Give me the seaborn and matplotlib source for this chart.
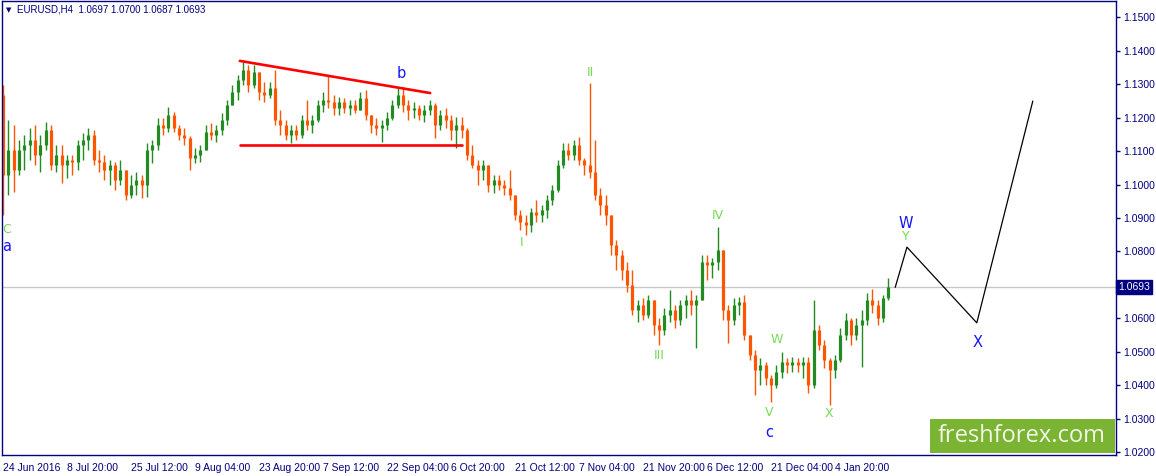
import matplotlib
matplotlib.use("Agg")
import matplotlib.pyplot as plt
import matplotlib.ticker as mticker
from matplotlib.patches import Rectangle
import numpy as np
import seaborn as sns

# --- EURUSD H4 bars (one bar per ~5px column) ---
first_open = 1.1267
closes = [
    1.1028, 1.1103, 1.1043, 1.1103, 1.1118, 1.1133, 1.1088, 1.1118, 1.1163, 1.1058, 1.1088, 1.1058,
    1.1073, 1.1067, 1.1118, 1.1133, 1.1148, 1.1073, 1.1067, 1.1043, 1.1058, 1.1013, 1.1043, 1.0969,
    1.0999, 1.1013, 1.0999, 1.1103, 1.1118, 1.1178, 1.1169, 1.1207, 1.1169, 1.1148, 1.1139, 1.1079,
    1.1088, 1.1103, 1.1157, 1.1148, 1.1163, 1.1193, 1.1237, 1.1276, 1.1312, 1.1342, 1.1297, 1.1336,
    1.1276, 1.1267, 1.1288, 1.1193, 1.1178, 1.1148, 1.1163, 1.1148, 1.1193, 1.1178, 1.1193, 1.1237,
    1.1252, 1.1246, 1.1228, 1.1246, 1.1228, 1.1237, 1.1222, 1.1258, 1.1207, 1.1178, 1.1169, 1.1178,
    1.1199, 1.1237, 1.1267, 1.1237, 1.1222, 1.1228, 1.1207, 1.1222, 1.1237, 1.1178, 1.1207, 1.1193,
    1.1163, 1.1178, 1.1163, 1.1088, 1.1058, 1.1043, 1.1058, 1.0999, 1.1013, 1.0999, 1.0990, 1.0969,
    1.0909, 1.0888, 1.0879, 1.0918, 1.0909, 1.0924, 1.0954, 1.0984, 1.1058, 1.1103, 1.1088, 1.1118,
    1.1073, 1.1058, 1.1037, 1.0969, 1.0939, 1.0909, 1.0819, 1.0790, 1.0745, 1.0700, 1.0625, 1.0640,
    1.0610, 1.0655, 1.0581, 1.0566, 1.0610, 1.0625, 1.0596, 1.0640, 1.0655, 1.0640, 1.0655, 1.0769,
    1.0760, 1.0769, 1.0804, 1.0625, 1.0596, 1.0640, 1.0649, 1.0551, 1.0491, 1.0446, 1.0461, 1.0422,
    1.0401, 1.0440, 1.0470, 1.0461, 1.0470, 1.0461, 1.0470, 1.0401, 1.0566, 1.0521, 1.0476, 1.0446,
    1.0476, 1.0551, 1.0596, 1.0551, 1.0581, 1.0596, 1.0655, 1.0640, 1.0601, 1.0661, 1.0693,
]
highs = [
    1.1297, 1.1193, 1.1178, 1.1133, 1.1148, 1.1169, 1.1178, 1.1148, 1.1187, 1.1178, 1.1118, 1.1118,
    1.1088, 1.1088, 1.1133, 1.1154, 1.1169, 1.1163, 1.1103, 1.1088, 1.1073, 1.1067, 1.1073, 1.1043,
    1.1028, 1.1037, 1.1028, 1.1124, 1.1133, 1.1199, 1.1199, 1.1231, 1.1216, 1.1178, 1.1169, 1.1145,
    1.1109, 1.1118, 1.1178, 1.1184, 1.1178, 1.1213, 1.1252, 1.1297, 1.1327, 1.1366, 1.1357, 1.1357,
    1.1336, 1.1306, 1.1306, 1.1342, 1.1222, 1.1193, 1.1178, 1.1178, 1.1207, 1.1252, 1.1207, 1.1252,
    1.1276, 1.1327, 1.1267, 1.1261, 1.1258, 1.1252, 1.1252, 1.1276, 1.1282, 1.1207, 1.1199, 1.1193,
    1.1216, 1.1252, 1.1288, 1.1291, 1.1252, 1.1246, 1.1237, 1.1237, 1.1252, 1.1243, 1.1222, 1.1228,
    1.1207, 1.1202, 1.1202, 1.1169, 1.1118, 1.1073, 1.1073, 1.1058, 1.1028, 1.1028, 1.1013, 1.1043,
    1.0969, 1.0924, 1.0909, 1.0930, 1.0954, 1.0939, 1.0969, 1.0999, 1.1073, 1.1124, 1.1124, 1.1133,
    1.1142, 1.1079, 1.1303, 1.1133, 1.0990, 1.0969, 1.0909, 1.0834, 1.0804, 1.0769, 1.0745, 1.0655,
    1.0661, 1.0670, 1.0655, 1.0601, 1.0631, 1.0685, 1.0640, 1.0655, 1.0670, 1.0685, 1.0670, 1.0790,
    1.0790, 1.0781, 1.0873, 1.0804, 1.0640, 1.0661, 1.0664, 1.0670, 1.0551, 1.0506, 1.0482, 1.0470,
    1.0431, 1.0461, 1.0500, 1.0482, 1.0485, 1.0482, 1.0485, 1.0485, 1.0655, 1.0581, 1.0536, 1.0482,
    1.0491, 1.0572, 1.0616, 1.0601, 1.0601, 1.0625, 1.0676, 1.0688, 1.0655, 1.0670, 1.0721,
]
lows = [
    1.0909, 1.0969, 1.0978, 1.1028, 1.1043, 1.1073, 1.1058, 1.1037, 1.1103, 1.1043, 1.1037, 1.1004,
    1.1019, 1.1028, 1.1043, 1.1073, 1.1103, 1.1058, 1.1037, 1.1013, 1.0999, 1.0984, 1.0999, 1.0954,
    1.0960, 1.0969, 1.0960, 1.0963, 1.1064, 1.1103, 1.1148, 1.1157, 1.1157, 1.1133, 1.1118, 1.1043,
    1.1064, 1.1067, 1.1103, 1.1133, 1.1127, 1.1148, 1.1178, 1.1237, 1.1252, 1.1297, 1.1276, 1.1288,
    1.1252, 1.1246, 1.1258, 1.1178, 1.1148, 1.1133, 1.1124, 1.1133, 1.1139, 1.1163, 1.1154, 1.1187,
    1.1216, 1.1228, 1.1207, 1.1207, 1.1213, 1.1207, 1.1213, 1.1222, 1.1193, 1.1154, 1.1148, 1.1127,
    1.1163, 1.1193, 1.1228, 1.1216, 1.1193, 1.1199, 1.1193, 1.1187, 1.1207, 1.1139, 1.1163, 1.1169,
    1.1133, 1.1109, 1.1139, 1.1073, 1.1049, 1.0999, 1.1013, 1.0978, 1.0975, 1.0984, 1.0969, 1.0954,
    1.0894, 1.0864, 1.0849, 1.0858, 1.0888, 1.0888, 1.0900, 1.0939, 1.0978, 1.1049, 1.1073, 1.1073,
    1.1058, 1.1028, 1.1019, 1.0954, 1.0909, 1.0879, 1.0790, 1.0745, 1.0715, 1.0679, 1.0610, 1.0590,
    1.0596, 1.0601, 1.0551, 1.0521, 1.0551, 1.0590, 1.0572, 1.0581, 1.0601, 1.0610, 1.0512, 1.0655,
    1.0715, 1.0721, 1.0745, 1.0596, 1.0527, 1.0581, 1.0610, 1.0536, 1.0476, 1.0372, 1.0401, 1.0401,
    1.0351, 1.0393, 1.0422, 1.0437, 1.0440, 1.0440, 1.0422, 1.0378, 1.0393, 1.0506, 1.0452, 1.0342,
    1.0422, 1.0470, 1.0536, 1.0521, 1.0536, 1.0455, 1.0581, 1.0616, 1.0581, 1.0590, 1.0655,
]

# time axis labels, one every 12 bars
date_labels = ["24 Jun 2016", "8 Jul 20:00", "25 Jul 12:00", "9 Aug 04:00", "23 Aug 20:00",
               "7 Sep 12:00", "22 Sep 04:00", "6 Oct 20:00", "21 Oct 12:00", "7 Nov 04:00",
               "21 Nov 20:00", "6 Dec 12:00", "21 Dec 04:00", "4 Jan 20:00"]
bars_per_label = 12

# price scale levels shown (1.0700 is hidden behind the current price box)
price_levels = [1.02, 1.03, 1.04, 1.05, 1.06, 1.08, 1.09, 1.10, 1.11, 1.12, 1.13, 1.14, 1.15]

# triangle trendlines (bar index, price)
upper_x = [44.4, 80.1]
upper_y = [1.1369, 1.1273]
lower_x = [44.4, 86.1]
lower_y = [1.1118, 1.1118]

# forecast path w-x-y
forecast_x = [167.3, 169.5, 182.6, 193.1]
forecast_y = [1.0693, 1.0813, 1.0587, 1.1249]

last_price = 1.0693
header = "EURUSD,H4  1.0697 1.0700 1.0687 1.0693"

UP = "#228b22"
DOWN = "#ff5500"
NAVY = "#000080"
WAVE_GREEN = "#74dc50"
WAVE_BLUE = "#1414ff"

sns.set_style("white")
plt.rcParams["font.family"] = ["Liberation Sans", "DejaVu Sans"]

fig = plt.figure(figsize=(11.56, 4.76), dpi=100)
ax = fig.add_axes([2 / 1156, 21 / 476, 1114 / 1156, 454 / 476])

closes = np.array(closes)
highs = np.array(highs)
lows = np.array(lows)
opens = np.r_[first_open, closes[:-1]]
idx = np.arange(len(closes))
colors = np.where(closes >= opens, UP, DOWN)

ax.axhline(last_price, color="#c8c8c8", lw=1, zorder=0)

# candles: thin wick + thicker body
ax.vlines(idx, lows, highs, colors=colors, linewidth=1.0, zorder=2)
ax.vlines(idx, np.minimum(opens, closes), np.maximum(opens, closes),
          colors=colors, linewidth=2.3, zorder=2)

sns.lineplot(x=upper_x, y=upper_y, ax=ax, color="#ff0000", lw=1.9, estimator=None, sort=False)
sns.lineplot(x=lower_x, y=lower_y, ax=ax, color="#ff0000", lw=1.9, estimator=None, sort=False)
sns.lineplot(x=forecast_x, y=forecast_y, ax=ax, color="black", lw=0.9, estimator=None, sort=False)

# wave labels
green_labels = [("C", 0.6, 1.0867), ("I", 97.3, 1.0828), ("II", 110.1, 1.1333),
                ("III", 123.0, 1.0491), ("IV", 134.1, 1.0906), ("V", 143.6, 1.0318),
                ("W", 145.1, 1.0536), ("X", 154.9, 1.0315), ("Y", 169.3, 1.0846)]
blue_labels = [("a", 0.6, 1.0816), ("b", 74.6, 1.1330), ("c", 143.6, 1.0261),
               ("W", 169.3, 1.0885), ("X", 182.8, 1.0527)]
for txt, x, y in green_labels:
    ax.text(x, y, txt, color=WAVE_GREEN, fontsize=9, ha="center", va="center",
            family=["DejaVu Sans"])
for txt, x, y in blue_labels:
    ax.text(x, y, txt, color=WAVE_BLUE, fontsize=10.5, ha="center", va="center",
            family=["DejaVu Sans"])

ax.set_xlim(-0.19, 208.7)
ax.set_ylim(1.01925, 1.15478)

ax.set_xticks(np.arange(len(date_labels)) * bars_per_label)
ax.set_xticklabels(date_labels, ha="left")
ax.yaxis.tick_right()
ax.set_yticks(price_levels)
ax.yaxis.set_major_formatter(mticker.FormatStrFormatter("%.4f"))
ax.tick_params(axis="both", colors=NAVY, labelcolor=NAVY, labelsize=7.5,
               length=3, width=1, direction="out")
ax.tick_params(axis="x", pad=1.5, length=4)
ax.tick_params(axis="y", pad=2)
for spine in ax.spines.values():
    spine.set_color(NAVY)
    spine.set_linewidth(1)
ax.set_xlabel("")
ax.set_ylabel("")

# current price marker on the price scale
ax.annotate(f"{last_price:.4f}", xy=(1, last_price), xycoords=("axes fraction", "data"),
            xytext=(1.5, 0), textcoords="offset points", ha="left", va="center",
            color="white", fontsize=7.5,
            bbox=dict(boxstyle="square,pad=0.2", fc=NAVY, ec=NAVY))

# header
fig.text(6 / 1156, 1 - 10 / 476, "\u25bc", color=NAVY, fontsize=5, va="center",
         family=["DejaVu Sans"])
fig.text(17 / 1156, 1 - 10 / 476, header, color=NAVY, fontsize=7, va="center")

# watermark
fig.patches.append(Rectangle((930 / 1156, 23 / 476), 185 / 1156, 34 / 476,
                             transform=fig.transFigure, facecolor="#7ab432",
                             edgecolor="none", zorder=5))
fig.text(1022 / 1156, 40 / 476, "freshforex.com", color="#f2f7ea", fontsize=17,
         ha="center", va="center", family=["Open Sans", "DejaVu Sans"], zorder=6)

fig.savefig("out.png", dpi=100)
